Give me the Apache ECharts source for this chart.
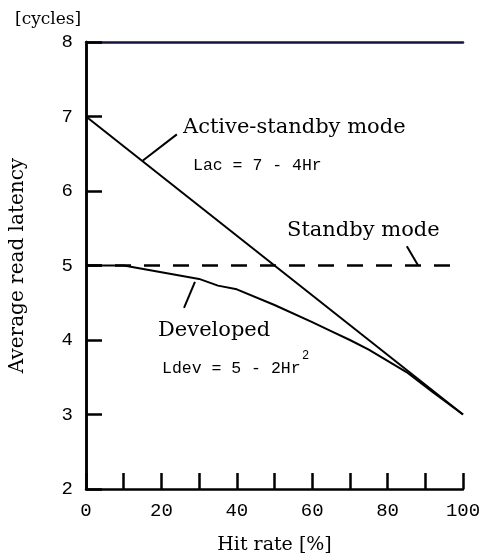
<!DOCTYPE html>
<html>
<head>
<meta charset="utf-8">
<script src="https://cdn.jsdelivr.net/npm/echarts@6/dist/echarts.min.js"></script>
<style>
html, body { margin: 0; background: #fff; }
#main { width: 486px; height: 557px; }
</style>
</head>
<body>
<div id="main"></div>
<script>
// data
var activeStandby = [[0, 7], [100, 3]];
var standby = [[0, 5], [100, 5]];
var developed = [[0, 5], [10, 5], [30, 4.82], [35, 4.73], [40, 4.68], [50, 4.47], [60, 4.24],
  [65, 4.12], [70, 4.0], [75, 3.87], [85, 3.57], [92, 3.3], [100, 3.0]];
// leader lines of the labels
var leaderActive = [[15.1, 6.41], [24.1, 6.76]];
var leaderStandby = [[85.1, 5.26], [88.1, 5.0]];
var leaderDeveloped = [[28.9, 4.78], [26.0, 4.43]];
var xTicks = [0, 20, 40, 60, 80, 100];

var chart = echarts.init(document.getElementById('main'));
var serif = 'DejaVu Serif';
var mono = 'Liberation Mono';

function lineSeries(data, w, type) {
  return {
    type: 'line',
    data: data,
    symbol: 'none',
    silent: true,
    lineStyle: { color: '#000', width: w, type: type || 'solid' }
  };
}

var option = {
  animation: false,
  grid: { left: 86, right: 23, top: 42, bottom: 68, containLabel: false, outerBoundsMode: 'none' },
  title: {
    text: '[cycles]', left: 10, top: 6,
    textStyle: { fontFamily: serif, fontSize: 17, fontWeight: 'normal', color: '#000' }
  },
  xAxis: [{
    type: 'value', min: 0, max: 100, interval: 10,
    name: 'Hit rate [%]', nameLocation: 'middle', nameGap: 47,
    nameTextStyle: { fontFamily: serif, fontSize: 19, color: '#000' },
    axisLine: { lineStyle: { color: '#000', width: 2.5 } },
    axisTick: { inside: true, length: 16, lineStyle: { color: '#000', width: 2.5 } },
    axisLabel: {
      margin: 12, fontFamily: mono, fontSize: 19, color: '#000',
      formatter: function (v) { return xTicks.indexOf(v) >= 0 ? String(v) : ''; }
    },
    splitLine: { show: false }
  }, {
    type: 'value', min: 0, max: 100, position: 'top',
    axisLine: { show: true, lineStyle: { color: '#14143c', width: 2.5 } },
    axisTick: { show: false }, axisLabel: { show: false }, splitLine: { show: false }
  }],
  yAxis: [{
    type: 'value', min: 2, max: 8, interval: 1,
    name: 'Average read latency', nameLocation: 'middle', nameGap: 58, nameRotate: 90,
    nameTextStyle: { fontFamily: serif, fontSize: 20, color: '#000' },
    axisLine: { show: true, lineStyle: { color: '#000', width: 2.5 } },
    axisTick: { inside: true, length: 16, lineStyle: { color: '#000', width: 2.5 } },
    axisLabel: { margin: 13, fontFamily: mono, fontSize: 19, color: '#000' },
    splitLine: { show: false }
  }, {
    type: 'value', min: 2, max: 8, position: 'right',
    axisLine: { show: true, lineStyle: { color: '#000', width: 2.5 } },
    axisTick: { show: false }, axisLabel: { show: false }, splitLine: { show: false }
  }],
  series: [
    lineSeries(standby, 2.5, [16, 13]),
    lineSeries(activeStandby, 2),
    lineSeries(developed, 2),
    lineSeries(leaderActive, 2),
    lineSeries(leaderStandby, 2),
    lineSeries(leaderDeveloped, 2)
  ],
  graphic: [
    { type: 'text', left: 183, top: 117, style: { text: 'Active-standby mode', font: '21px "DejaVu Serif"', fill: '#000' } },
    { type: 'text', left: 193, top: 157, style: { text: 'Lac = 7 - 4Hr', font: '16.5px "Liberation Mono"', fill: '#000' } },
    { type: 'text', left: 287, top: 220, style: { text: 'Standby mode', font: '21px "DejaVu Serif"', fill: '#000' } },
    { type: 'text', left: 158, top: 320, style: { text: 'Developed', font: '21px "DejaVu Serif"', fill: '#000' } },
    { type: 'text', left: 162, top: 360, style: { text: 'Ldev = 5 - 2Hr', font: '16.5px "Liberation Mono"', fill: '#000' } },
    { type: 'text', left: 302, top: 350, style: { text: '2', font: '12px "Liberation Mono"', fill: '#000' } }
  ]
};

chart.setOption(option);
</script>
</body>
</html>
